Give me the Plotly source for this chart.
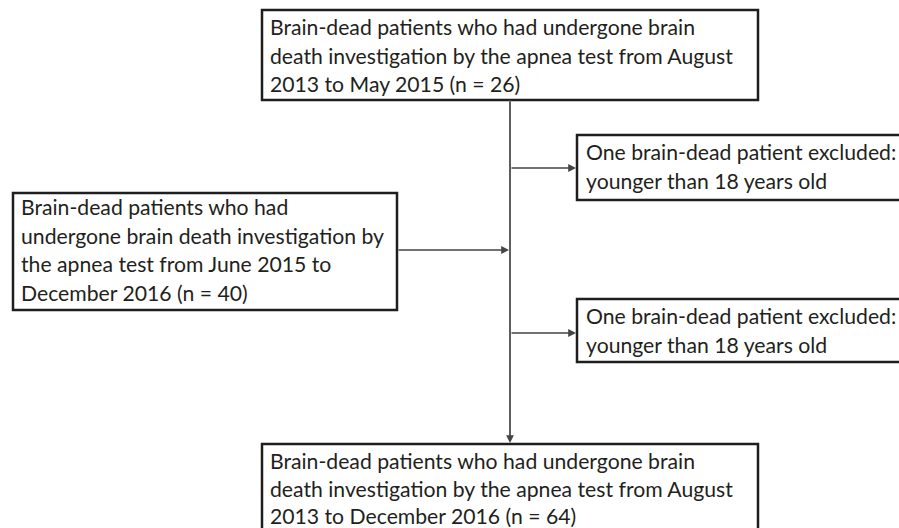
import plotly.graph_objects as go

# ---- content ----
top_lines = ["Brain-dead patients who had undergone brain",
             "death investigation by the apnea test from August",
             "2013 to May 2015 (n = 26)"]
left_lines = ["Brain-dead patients who had",
              "undergone brain death investigation by",
              "the apnea test from June 2015 to",
              "December 2016 (n = 40)"]
excl1_lines = ["One brain-dead patient excluded:",
               "younger than 18 years old"]
excl2_lines = ["One brain-dead patient excluded:",
               "younger than 18 years old"]
bottom_lines = ["Brain-dead patients who had undergone brain",
                "death investigation by the apnea test from August",
                "2013 to December 2016 (n = 64)"]

# ---- layout geometry (pixels, y downward) ----
W, H = 899, 528
boxes = [  # x0, y0, x1, y1, text_x, first_baseline, line_height, lines
    (262, 10, 758, 100, 269, 35, 28.5, top_lines),
    (13, 193, 397, 310, 20, 215, 28.5, left_lines),
    (577, 135, 905, 200, 585, 160, 28.5, excl1_lines),
    (577, 299, 905, 362, 585, 324, 28.5, excl2_lines),
    (262, 444, 758, 540, 269, 469, 27.5, bottom_lines),
]
FS = 21.2
FONT = "Lato"
SPINE_X = 510

fig = go.Figure()
shapes = []
annotations = []
for x0, y0, x1, y1, tx, b0, lh, lines in boxes:
    shapes.append(dict(type="rect", x0=x0, y0=y0, x1=x1, y1=y1, xref="x", yref="y",
                       line=dict(color="#1e1e1e", width=2.5), fillcolor="white", layer="below"))
    for i, ln in enumerate(lines):
        annotations.append(dict(x=tx, y=b0 + i * lh - 8, xref="x", yref="y", text=ln,
                                showarrow=False, xanchor="left", yanchor="middle", borderpad=0,
                                font=dict(family=FONT, size=FS, color="#231f20")))

# spine
shapes.append(dict(type="line", x0=SPINE_X, y0=100, x1=SPINE_X, y1=440, xref="x", yref="y",
                   line=dict(color="#555555", width=1.3)))

def arrow(x_from, y_from, x_to, y_to):
    annotations.append(dict(x=x_to, y=y_to, ax=x_from, ay=y_from, xref="x", yref="y",
                            axref="x", ayref="y", text="", showarrow=True, arrowhead=2,
                            arrowsize=1.2, arrowwidth=1.3, arrowcolor="#444444"))

arrow(SPINE_X, 100, SPINE_X, 443)
arrow(397, 250, SPINE_X - 1, 250)
arrow(SPINE_X, 168, 576, 168)
arrow(SPINE_X, 333, 576, 333)

fig.update_layout(width=W, height=H, margin=dict(l=0, r=0, t=0, b=0),
                  paper_bgcolor="white", plot_bgcolor="white",
                  xaxis=dict(range=[0, W], visible=False, fixedrange=True),
                  yaxis=dict(range=[H, 0], visible=False, fixedrange=True),
                  shapes=shapes, annotations=annotations, showlegend=False)
fig.write_html("out.html", config={"displayModeBar": False},
               post_script="document.body.style.margin='0';document.body.style.overflow='hidden';")
